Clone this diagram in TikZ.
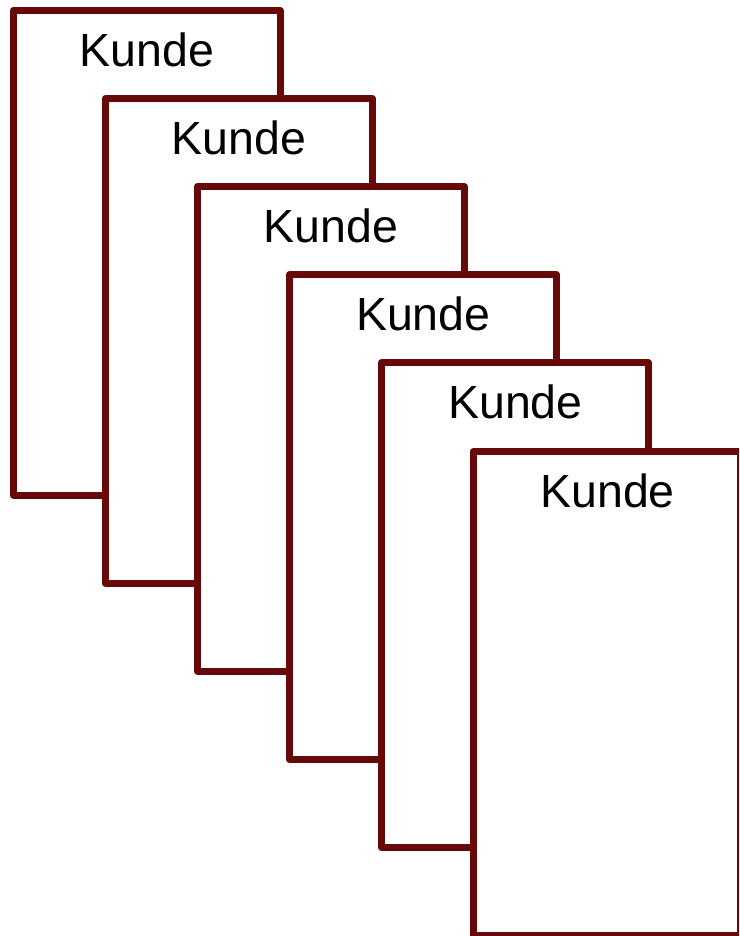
\documentclass[tikz,border=0pt]{standalone}
\usepackage{fontspec}
\setmainfont{Liberation Sans}
\definecolor{maroon}{RGB}{102,9,8}
\begin{document}
\begin{tikzpicture}[x=1pt,y=-1pt,
  card/.style={draw=maroon,fill=white,line width=7pt,line join=round,
    minimum width=267pt,minimum height=484.5pt,inner sep=0pt,outer sep=0pt,anchor=north west},
  cardtext/.style={font=\fontsize{46.5}{50}\selectfont,anchor=base,inner sep=0pt}]
\useasboundingbox (0,0) rectangle (739,936);
\clip (0,0) rectangle (739,936);
\foreach \i in {0,...,5}{
  \node[card] (c\i) at ({13+92.1*\i},{10.5+88.1*\i}) {};
  \node[cardtext] (t\i) at ({147+92.1*\i},{66.5+88.1*\i}) {Kunde};
}
\end{tikzpicture}
\end{document}
